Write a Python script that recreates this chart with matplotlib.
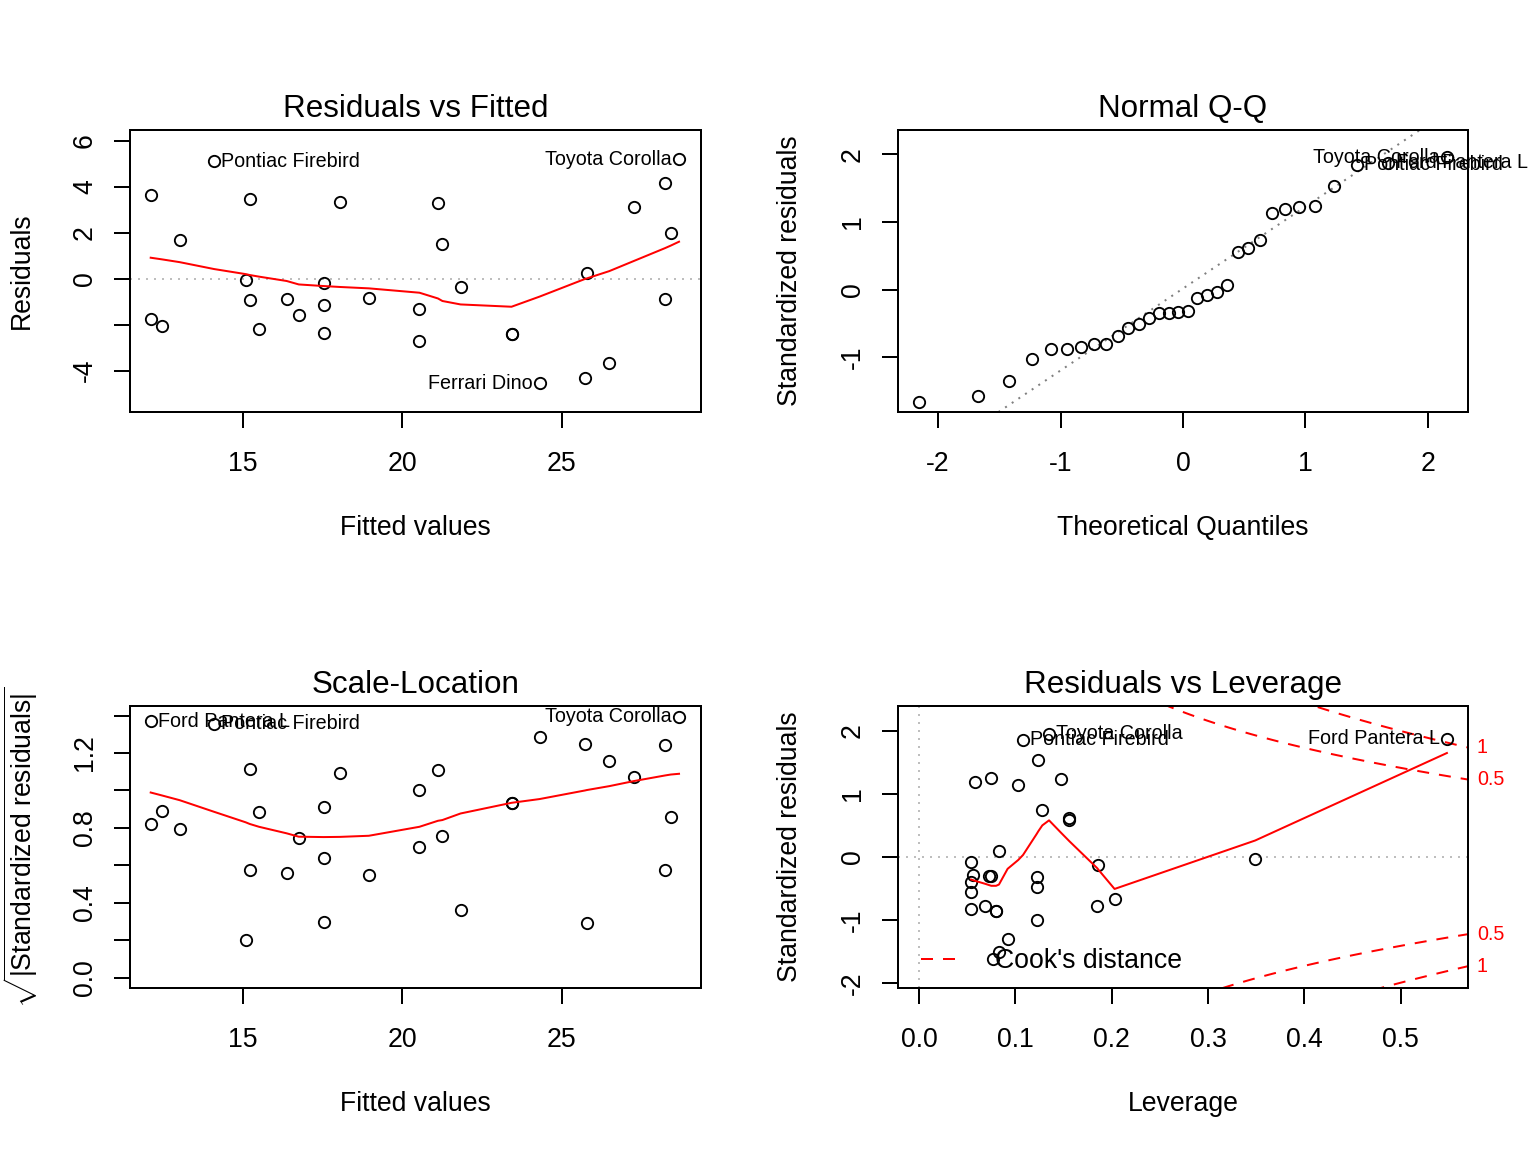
import numpy as np
import matplotlib
matplotlib.use('Agg')
import matplotlib.pyplot as plt
import matplotlib.transforms as mtransforms
from matplotlib.lines import Line2D

plt.rcParams['font.family'] = ['Liberation Sans', 'DejaVu Sans']
plt.rcParams['axes.unicode_minus'] = False
plt.rcParams['mathtext.fontset'] = 'custom'
plt.rcParams['mathtext.rm'] = 'Liberation Sans'
plt.rcParams['mathtext.it'] = 'Liberation Sans:italic'
plt.rcParams['mathtext.bf'] = 'Liberation Sans:bold'

# ---------------- data ----------------
point_names = {0: 'Ford Pantera L', 1: 'Pontiac Firebird', 2: 'Toyota Corolla', 10: 'Ferrari Dino'}

fitted = [12.10, 14.09, 28.69, 28.25, 27.27, 28.43, 25.79, 28.25, 26.50, 25.74,
          24.31, 23.43, 23.43, 21.83, 21.26, 21.12, 20.54, 20.54, 18.95, 18.04,
          17.53, 17.53, 17.53, 16.75, 16.37, 15.50, 15.21, 15.21, 15.08, 13.01,
          12.10, 12.46]
residuals = [3.64, 5.12, 5.20, 4.17, 3.13, 2.00, 0.26, -0.87, -3.65, -4.30,
             -4.55, -2.41, -2.41, -0.36, 1.52, 3.30, -1.30, -2.70, -0.83, 3.33,
             -0.20, -1.14, -2.36, -1.58, -0.87, -2.17, -0.91, 3.48, -0.07, 1.68,
             -1.75, -2.04]
sqrt_abs_std_resid = [1.369, 1.357, 1.393, 1.242, 1.073, 0.860, 0.290, 0.575, 1.156, 1.247,
                      1.286, 0.934, 0.934, 0.362, 0.758, 1.108, 0.700, 1.002, 0.551, 1.092,
                      0.295, 0.641, 0.913, 0.748, 0.561, 0.886, 0.575, 1.114, 0.2025, 0.794,
                      0.821, 0.892]
leverage = [0.548, 0.108, 0.135, 0.124, 0.103, 0.128, 0.083, 0.122, 0.092, 0.083,
            0.077, 0.080, 0.080, 0.186, 0.156, 0.147, 0.122, 0.122, 0.075, 0.058,
            0.054, 0.054, 0.054, 0.054, 0.073, 0.069, 0.056, 0.075, 0.349, 0.156,
            0.203, 0.185]
std_resid = [1.878, 1.862, 1.958, 1.534, 1.148, 0.751, 0.095, -0.317, -1.312, -1.519,
             -1.630, -0.857, -0.857, -0.122, 0.582, 1.233, -0.476, -1.000, -0.307, 1.190,
             -0.085, -0.397, -0.831, -0.556, -0.302, -0.778, -0.291, 1.254, -0.032, 0.624,
             -0.672, -0.778]

qq_theoretical = [-2.154, -1.676, -1.418, -1.230, -1.078, -0.947, -0.831, -0.725,
                  -0.626, -0.534, -0.445, -0.360, -0.278, -0.197, -0.118, -0.039,
                  0.039, 0.118, 0.197, 0.278, 0.360, 0.445, 0.534, 0.626,
                  0.725, 0.831, 0.947, 1.078, 1.230, 1.418, 1.676, 2.154]
qq_sample = [-1.653, -1.564, -1.348, -1.023, -0.871, -0.871, -0.841, -0.802,
             -0.797, -0.679, -0.561, -0.502, -0.413, -0.339, -0.339, -0.330,
             -0.310, -0.128, -0.084, -0.039, 0.074, 0.561, 0.620, 0.733,
             1.131, 1.195, 1.225, 1.240, 1.535, 1.840, 1.875, 1.950]
qq_names = {29: 'Pontiac Firebird', 30: 'Ford Pantera L', 31: 'Toyota Corolla'}

# smoother (red line) vertices
smooth_fitted = [12.10, 12.46, 13.01, 14.09, 15.08, 15.21, 15.50, 16.37, 16.75, 17.53,
                 18.04, 18.95, 20.54, 21.12, 21.26, 21.83, 23.43, 24.31, 25.74, 25.79,
                 26.50, 27.27, 28.25, 28.43, 28.69]
smooth_resid = [0.913, 0.84, 0.72, 0.42, 0.20, 0.16, 0.09, -0.10, -0.25, -0.32,
                -0.36, -0.42, -0.61, -0.86, -0.97, -1.12, -1.22, -0.78, -0.01, 0.01,
                0.33, 0.77, 1.33, 1.44, 1.61]
smooth_scale = [0.989, 0.973, 0.948, 0.886, 0.830, 0.821, 0.806, 0.771, 0.753, 0.751,
                0.752, 0.758, 0.806, 0.838, 0.842, 0.877, 0.934, 0.954, 1.000, 1.002,
                1.023, 1.050, 1.080, 1.085, 1.089]
smooth_lev_x = [0.054, 0.056, 0.058, 0.069, 0.073, 0.075, 0.077, 0.080, 0.083, 0.092,
                0.103, 0.108, 0.122, 0.124, 0.128, 0.135, 0.147, 0.156, 0.185, 0.186,
                0.203, 0.349, 0.548]
smooth_lev_y = [-0.36, -0.37, -0.38, -0.43, -0.45, -0.46, -0.46, -0.46, -0.44, -0.19,
                -0.05, 0.03, 0.36, 0.41, 0.50, 0.58, 0.39, 0.25, -0.18, -0.20,
                -0.51, 0.26, 1.65]

n_params = 4
cook_levels = [0.5, 1.0]

# ---------------- styling ----------------
BASE_FS = 20
TITLE_FS = 23.5
LAB_FS = 14.8
fig = plt.figure(figsize=(16, 12), dpi=96)

W, H = 1536.0, 1152.0
def rect(x0, y0, x1, y1):
    return [x0 / W, 1 - y1 / H, (x1 - x0) / W, (y1 - y0) / H]

ax1 = fig.add_axes(rect(130, 130, 701, 412))
ax2 = fig.add_axes(rect(898, 130, 1468, 412))
ax3 = fig.add_axes(rect(130, 706, 701, 988))
ax4 = fig.add_axes(rect(898, 706, 1468, 988))

def style(ax, title, xlabel, ylabel, xticks, xticklabels, yticks, yticklabels):
    for s in ax.spines.values():
        s.set_linewidth(1.5)
    ax.tick_params(direction='out', length=12, width=1.5, labelsize=BASE_FS,
                   top=False, right=False)
    ax.tick_params(axis='x', pad=17.5)
    ax.tick_params(axis='y', pad=12)
    ax.set_xticks(xticks)
    ax.set_xticklabels(xticklabels)
    ax.set_yticks(yticks)
    ax.set_yticklabels(yticklabels, rotation=90, va='center')
    ax.text(0.5, 1.074, title, transform=ax.transAxes, ha='center', va='center',
            fontsize=TITLE_FS)
    ax.set_xlabel(xlabel, fontsize=BASE_FS)
    ax.set_ylabel(ylabel, fontsize=BASE_FS)
    ax.xaxis.label.set_va('center')
    ax.yaxis.label.set_va('center')
    ax.xaxis.set_label_coords(0.5, -0.411)
    ax.yaxis.set_label_coords(-0.189, 0.5)

def pts(ax, x, y):
    ax.plot(x, y, 'o', ms=8.5, mfc='none', mec='black', mew=1.4, ls='none')

def label(ax, x, y, text, side):
    off = 5.5 if side == 'right' else -5.5
    ax.annotate(text, (x, y), xytext=(off, 0), textcoords='offset points',
                ha='left' if side == 'right' else 'right', va='center',
                fontsize=LAB_FS, annotation_clip=False)

dot = dict(color='#BEBEBE', lw=1.5, dashes=(1, 3))

# ---- Panel 1: Residuals vs Fitted
ax1.set_xlim(11.45, 29.38)
ax1.set_ylim(-5.80, 6.47)
ax1.axhline(0, **dot)
pts(ax1, fitted, residuals)
ax1.plot(smooth_fitted, smooth_resid, color='red', lw=1.5)
for i, nm in point_names.items():
    if nm == 'Ford Pantera L':
        continue
    side = 'right' if fitted[i] < np.mean(ax1.get_xlim()) else 'left'
    label(ax1, fitted[i], residuals[i], nm, side)
style(ax1, 'Residuals vs Fitted', 'Fitted values', 'Residuals',
      [15, 20, 25], ['15', '20', '25'], [-4, -2, 0, 2, 4, 6], ['-4', '', '0', '2', '4', '6'])

# ---- Panel 2: Normal Q-Q
ax2.set_xlim(-2.327, 2.327)
ax2.set_ylim(-1.804, 2.355)
q_y = np.percentile(qq_sample, [25, 75])
q_x = np.array([-0.6745, 0.6745])
slope = (q_y[1] - q_y[0]) / (q_x[1] - q_x[0])
inter = q_y[0] - slope * q_x[0]
ax2.axline((0, inter), slope=slope, color='#7F7F7F', lw=1.5, dashes=(1, 3))
pts(ax2, qq_theoretical, qq_sample)
qq_sides = {29: 'right', 30: 'right', 31: 'left'}
for i, nm in qq_names.items():
    label(ax2, qq_theoretical[i], qq_sample[i], nm, qq_sides[i])
style(ax2, 'Normal Q-Q', 'Theoretical Quantiles', 'Standardized residuals',
      [-2, -1, 0, 1, 2], ['-2', '-1', '0', '1', '2'], [-1, 0, 1, 2], ['-1', '0', '1', '2'])

# ---- Panel 3: Scale-Location
ax3.set_xlim(11.45, 29.38)
ax3.set_ylim(-0.055, 1.451)
pts(ax3, fitted, sqrt_abs_std_resid)
ax3.plot(smooth_fitted, smooth_scale, color='red', lw=1.5)
for i in [0, 1, 2]:
    side = 'right' if fitted[i] < np.mean(ax3.get_xlim()) else 'left'
    label(ax3, fitted[i], sqrt_abs_std_resid[i], point_names[i], side)
style(ax3, 'Scale-Location', 'Fitted values',
      r'$\sqrt{|\mathrm{Standardized\ residuals}|}$',
      [15, 20, 25], ['15', '20', '25'],
      [0.0, 0.2, 0.4, 0.6, 0.8, 1.0, 1.2, 1.4],
      ['0.0', '', '0.4', '', '0.8', '', '1.2', ''])
ax3.yaxis.set_label_coords(-0.192, 0.5)

# ---- Panel 4: Residuals vs Leverage
xlim4 = (-0.0218, 0.5699)
ax4.set_xlim(*xlim4)
ax4.set_ylim(-2.084, 2.397)
ax4.axhline(0, **dot)
ax4.axvline(0, **dot)
hh = np.linspace(min(min(leverage), max(leverage) / 100), xlim4[1], 101)
trans = mtransforms.blended_transform_factory(ax4.transAxes, ax4.transData)
for lvl in cook_levels:
    cl = np.sqrt(lvl * n_params * (1 - hh) / hh)
    ax4.plot(hh, cl, color='red', lw=1.5, dashes=(6, 5))
    ax4.plot(hh, -cl, color='red', lw=1.5, dashes=(6, 5))
    aty = np.sqrt(lvl * n_params * (1 - xlim4[1]) / xlim4[1])
    txt = '%g' % lvl
    for yv in (aty, -aty):
        ax4.text(1.0 + 9 / 570, yv, txt, transform=trans, ha='left', va='center',
                 color='red', fontsize=LAB_FS, clip_on=False)
pts(ax4, leverage, std_resid)
ax4.plot(smooth_lev_x, smooth_lev_y, color='red', lw=1.5)
for i in [1, 2, 0]:
    side = 'right' if leverage[i] < np.mean(xlim4) else 'left'
    label(ax4, leverage[i], std_resid[i], point_names[i], side)
style(ax4, 'Residuals vs Leverage', 'Leverage', 'Standardized residuals',
      [0.0, 0.1, 0.2, 0.3, 0.4, 0.5], ['0.0', '0.1', '0.2', '0.3', '0.4', '0.5'],
      [-2, -1, 0, 1, 2], ['-2', '-1', '0', '1', '2'])
ax4.set_xlim(*xlim4)
leg = ax4.legend(handles=[Line2D([], [], color='red', lw=1.5, dashes=(6, 5))],
                 labels=["Cook's distance"], loc='lower left', frameon=False,
                 fontsize=BASE_FS, handlelength=1.6, handletextpad=1.2,
                 borderpad=0, borderaxespad=0, bbox_to_anchor=(0.040, 0.050))

fig.savefig('out.png', dpi=96)
